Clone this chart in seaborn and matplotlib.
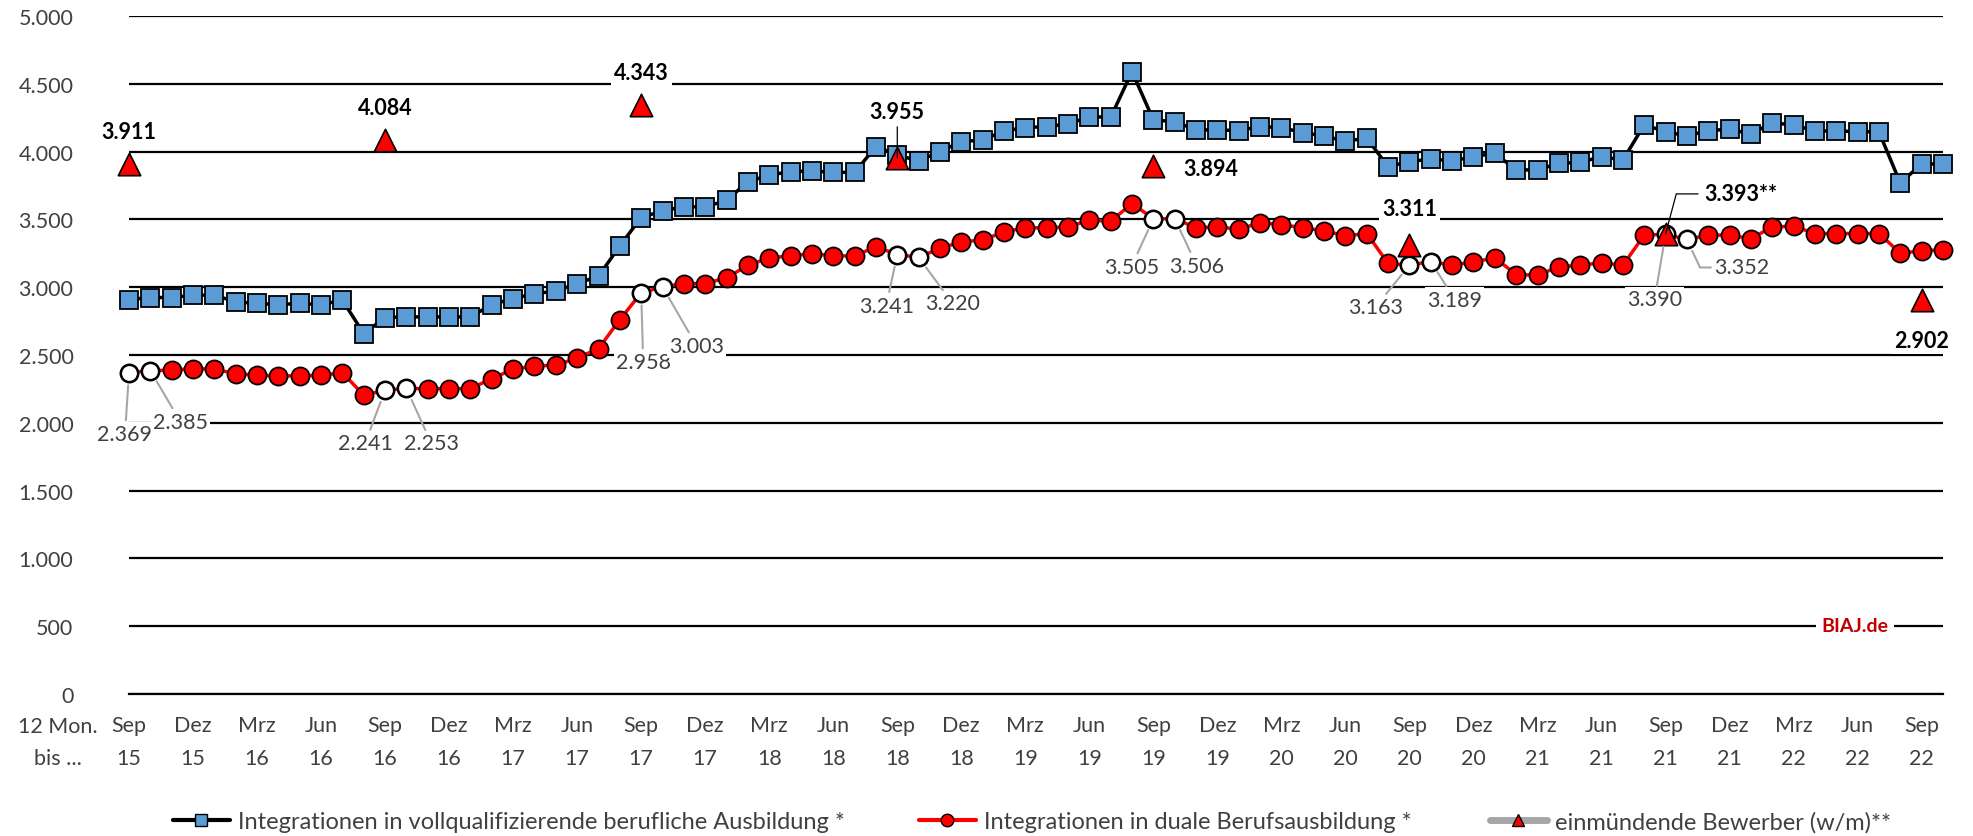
import numpy as np
import pandas as pd
import matplotlib
matplotlib.use("Agg")
import matplotlib.pyplot as plt
from matplotlib.lines import Line2D
import seaborn as sns

# ---------------------------------------------------------------
# Data (rolling 12-month sums, Sep 15 ... Okt 22)
# ---------------------------------------------------------------
months = ["Jan", "Feb", "Mrz", "Apr", "Mai", "Jun", "Jul", "Aug", "Sep", "Okt", "Nov", "Dez"]
periods = [(months[(8 + k) % 12], 15 + (8 + k) // 12) for k in range(86)]

voll = [2909, 2924, 2924, 2941, 2941, 2892, 2880, 2872, 2880, 2872, 2904, 2658,
        2776, 2781, 2781, 2781, 2781, 2872, 2916, 2953, 2970, 3027, 3081, 3305,
        3514, 3563, 3593, 3593, 3640, 3778, 3827, 3852, 3857, 3847, 3847, 4037,
        3975, 3931, 4000, 4074, 4086, 4152, 4177, 4185, 4202, 4258, 4253, 4590,
        4233, 4221, 4160, 4160, 4155, 4185, 4177, 4140, 4115, 4077, 4099, 3889,
        3926, 3946, 3931, 3963, 3988, 3865, 3865, 3914, 3921, 3963, 3938, 4197,
        4148, 4115, 4155, 4165, 4130, 4212, 4197, 4152, 4152, 4148, 4145, 3768,
        3910, 3908]

dual = [2369, 2385, 2388, 2400, 2395, 2363, 2350, 2346, 2346, 2350, 2370, 2203,
        2241, 2253, 2252, 2252, 2252, 2326, 2395, 2419, 2424, 2478, 2547, 2761,
        2958, 3003, 3027, 3027, 3069, 3162, 3216, 3231, 3248, 3231, 3231, 3298,
        3241, 3220, 3286, 3335, 3347, 3409, 3438, 3438, 3445, 3494, 3487, 3617,
        3505, 3506, 3438, 3445, 3428, 3475, 3462, 3438, 3416, 3379, 3396, 3175,
        3163, 3189, 3162, 3187, 3216, 3093, 3089, 3150, 3162, 3180, 3162, 3384,
        3390, 3352, 3384, 3384, 3359, 3444, 3450, 3396, 3396, 3396, 3396, 3251,
        3268, 3276]

# labelled (hollow) points of the dual series
hollow_idx = [0, 1, 12, 13, 24, 25, 36, 37, 48, 49, 60, 61, 72, 73]

# einmündende Bewerber, each September
bew_idx = [0, 12, 24, 36, 48, 60, 72, 84]
bew = [3911, 4084, 4343, 3955, 3894, 3311, 3393, 2902]
bew_text = ["3.911", "4.084", "4.343", "3.955", "3.894", "3.311", "3.393**", "2.902"]

df = pd.DataFrame({"idx": np.arange(len(voll)), "voll": voll, "dual": dual})
df_hollow = df.loc[hollow_idx]
df_bew = pd.DataFrame({"idx": bew_idx, "bew": bew})

def de(v):
    return f"{v:,}".replace(",", ".")

# ---------------------------------------------------------------
# Plot
# ---------------------------------------------------------------
sns.set_theme(style="white")
plt.rcParams["font.family"] = ["Lato", "DejaVu Sans"]

TXT = "#404040"
BLUE = "#5B9BD5"
RED = "#FF0000"

fig = plt.figure(figsize=(19.73, 8.37), dpi=100)
ax = fig.add_axes([129 / 1973, 1 - 695 / 837, (1943 - 129) / 1973, (695 - 17) / 837])

sns.lineplot(data=df, x="idx", y="voll", ax=ax, color="black", lw=2.5,
             marker="s", markersize=13, markerfacecolor=BLUE,
             markeredgecolor="black", markeredgewidth=1.3, zorder=4, clip_on=False)
sns.lineplot(data=df, x="idx", y="dual", ax=ax, color=RED, lw=2.5,
             marker="o", markersize=13, markerfacecolor=RED,
             markeredgecolor="black", markeredgewidth=1.3, zorder=4, clip_on=False)
sns.scatterplot(data=df_hollow, x="idx", y="dual", ax=ax, s=150, marker="o",
                color="white", edgecolor="black", linewidth=1.6, zorder=5, clip_on=False)
sns.scatterplot(data=df_bew, x="idx", y="bew", ax=ax, s=260, marker="^",
                color=RED, edgecolor="black", linewidth=1.2, zorder=6, clip_on=False)

ax.set_xlim(0, 85)
ax.set_ylim(0, 5000)
ax.set_xlabel("")
ax.set_ylabel("")

# y axis
ax.set_yticks(np.arange(0, 5001, 500))
ax.set_yticklabels([de(v) for v in range(0, 5001, 500)], fontsize=15.5, color=TXT)
ax.yaxis.grid(True, color="black", lw=1.6)
ax.tick_params(axis="y", length=0, pad=40)

# x axis
ax.set_xticks(np.arange(86))
ax.set_xticklabels([f"{m}\n{y}" if k % 3 == 0 else "" for k, (m, y) in enumerate(periods)],
                   fontsize=15.5, color=TXT, linespacing=1.8)
ax.tick_params(axis="x", direction="in", length=7, width=1.5, color="black", pad=15)

for s in ["top", "right", "left"]:
    ax.spines[s].set_visible(False)
ax.spines["bottom"].set_color("black")
ax.spines["bottom"].set_linewidth(1.6)
ax.set_axisbelow(True)

fig.text(58 / 1973, 1 - 743 / 837, "12 Mon.\nbis ...", ha="center", va="center",
         fontsize=15.5, color=TXT, linespacing=1.8)

# ---------------------------------------------------------------
# Data labels
# ---------------------------------------------------------------
hollow_off = [(-4, -61), (30, -51), (-20, -53), (25, -55), (2, -69), (34, -59),
              (-11, -51), (34, -46), (-22, -48), (22, -47), (-34, -42), (24, -38),
              (-11, -65), (55, -28)]
for i, off in zip(hollow_idx, hollow_off):
    cs = "angle,angleA=0,angleB=115,rad=0" if i == 73 else "arc3"
    ax.annotate(de(dual[i]), xy=(i, dual[i]), xytext=off, textcoords="offset pixels",
                ha="center", va="center", fontsize=15.5, color=TXT, zorder=7,
                bbox=dict(boxstyle="square,pad=0.1", fc="white", ec="none"),
                arrowprops=dict(arrowstyle="-", color="#A6A6A6", lw=1.5,
                                shrinkA=1, shrinkB=9, connectionstyle=cs))

bew_off = [(0, 32), (0, 33), (0, 33), (0, 46), (57, -3), (0, 37), (75, 40), (0, -40)]
for i, v, t, off in zip(bew_idx, bew, bew_text, bew_off):
    arrow = None
    if i == 36:
        arrow = dict(arrowstyle="-", color="black", lw=0.9, shrinkA=1, shrinkB=0)
    elif i == 72:
        arrow = dict(arrowstyle="-", color="black", lw=0.9, shrinkA=2, shrinkB=0,
                     connectionstyle="angle,angleA=0,angleB=75,rad=0")
    ax.annotate(t, xy=(i, v), xytext=off, textcoords="offset pixels",
                ha="center", va="center", fontsize=15.5, fontweight="bold",
                color="black", zorder=7,
                bbox=dict(boxstyle="square,pad=0.15", fc="white", ec="none"),
                arrowprops=arrow)

ax.text(1855 / 1973, 1 - 627 / 837, "BIAJ.de", transform=fig.transFigure,
        ha="center", va="center", fontsize=14, fontweight="bold", color="#C00000",
        bbox=dict(boxstyle="square,pad=0.3", fc="white", ec="none"), zorder=7)

# ---------------------------------------------------------------
# Legend (three separate entries, like the Excel original)
# ---------------------------------------------------------------
handles = [
    Line2D([], [], color="black", lw=3, marker="s", markersize=9,
           markerfacecolor=BLUE, markeredgecolor="black"),
    Line2D([], [], color=RED, lw=3, marker="o", markersize=9,
           markerfacecolor=RED, markeredgecolor="black"),
    Line2D([], [], color="#A6A6A6", lw=5, marker="^", markersize=9,
           markerfacecolor=RED, markeredgecolor="black"),
]
labels = ["Integrationen in vollqualifizierende berufliche Ausbildung *",
          "Integrationen in duale Berufsausbildung *",
          "einmündende Bewerber (w/m)**"]
for h, lab, x0 in zip(handles, labels, [173, 919, 1490]):
    leg = fig.legend([h], [lab], loc="center left", bbox_to_anchor=(x0 / 1973, 1 - 823 / 837),
                     frameon=False, fontsize=17, handlelength=2.4, handletextpad=0.35,
                     borderpad=0, borderaxespad=0)
    for t in leg.get_texts():
        t.set_color(TXT)

fig.savefig("out.png", dpi=100)
